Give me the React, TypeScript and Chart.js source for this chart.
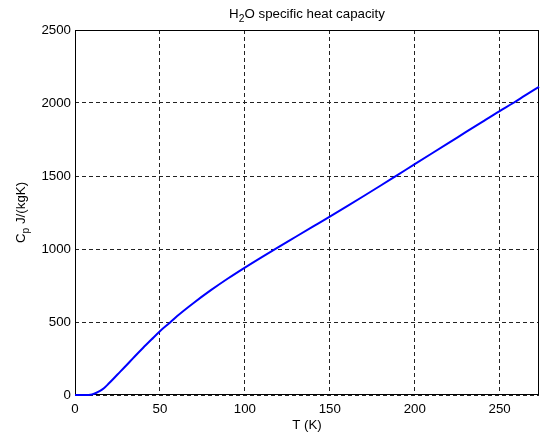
import React, { useEffect, useRef } from "react";
import { Chart, registerables } from "chart.js";

Chart.register(...registerables);

const temperatureK = [0, 4, 8, 10, 12, 15, 17, 20, 25, 30, 35, 40, 45, 50, 56, 60, 70, 80, 90, 100, 110, 120, 130, 140, 150, 160, 170, 180, 190, 200, 210, 220, 230, 240, 250, 258, 265, 273.15];
const cpValues = [0, 0, 0, 3, 12, 30, 46, 80, 140, 200, 262, 322, 380, 437, 497, 539, 632, 718, 798, 873, 945, 1015, 1084, 1153, 1222, 1292, 1363, 1435, 1508, 1581, 1654, 1727, 1800, 1873, 1945, 2000, 2052, 2111];
const xTicks = [0, 50, 100, 150, 200, 250];
const yTicks = [0, 500, 1000, 1500, 2000, 2500];

const FONT = "Liberation Sans, Arial, Helvetica, sans-serif";
const FS = 13.3;

const framePlugin = {
  id: "matlabFrame",
  beforeDatasetsDraw(chart: any) {
    const { ctx, chartArea } = chart;
    const { left, right, top, bottom } = chartArea;
    ctx.save();
    ctx.strokeStyle = "#000";
    ctx.lineWidth = 1;
    ctx.setLineDash([]);
    ctx.strokeRect(Math.round(left) + 0.5, Math.round(top) + 0.5, Math.round(right - left) - 1, Math.round(bottom - top) - 1);
    ctx.restore();
  },
  afterDraw(chart: any) {
    const { ctx, chartArea } = chart;
    const { left, right, top, bottom } = chartArea;
    ctx.save();
    ctx.fillStyle = "#000";
    const cx = (left + right) / 2;
    const big = `${FS}px ${FONT}`;
    const small = `${FS - 3}px ${FONT}`;
    const drawSub = (parts: [string, boolean][], x: number, y: number) => {
      let w = 0;
      for (const [t, s] of parts) {
        ctx.font = s ? small : big;
        w += ctx.measureText(t).width;
      }
      let cur = x - w / 2;
      ctx.textAlign = "left";
      ctx.textBaseline = "alphabetic";
      for (const [t, s] of parts) {
        ctx.font = s ? small : big;
        ctx.fillText(t, cur, y + (s ? 4 : 0));
        cur += ctx.measureText(t).width;
      }
    };
    drawSub([["H", false], ["2", true], ["O specific heat capacity", false]], cx, 18);
    ctx.font = big;
    ctx.textAlign = "center";
    ctx.textBaseline = "alphabetic";
    ctx.fillText("T (K)", cx, 429);
    ctx.save();
    ctx.translate(25, (top + bottom) / 2);
    ctx.rotate(-Math.PI / 2);
    drawSub([["C", false], ["p", true], [" J/(kgK)", false]], 0, 0);
    ctx.restore();
    ctx.restore();
  },
};

export default function App() {
  const ref = useRef<HTMLCanvasElement | null>(null);
  useEffect(() => {
    if (!ref.current) return;
    const chart = new Chart(ref.current, {
      type: "line",
      data: {
        datasets: [
          {
            data: temperatureK.map((t, i) => ({ x: t, y: cpValues[i] })),
            borderColor: "#0000ff",
            borderWidth: 2,
            pointRadius: 0,
            fill: false,
            cubicInterpolationMode: "monotone",
            clip: 2,
          },
        ],
      },
      options: {
        animation: false,
        responsive: false,
        devicePixelRatio: 1,
        layout: { padding: { left: 0, right: 2, top: 30, bottom: 0 } },
        plugins: { legend: { display: false }, tooltip: { enabled: false }, title: { display: false } },
        scales: {
          x: {
            type: "linear",
            min: 0,
            max: 273.15,
            afterBuildTicks: (s: any) => {
              s.ticks = xTicks.map((v) => ({ value: v }));
            },
            afterFit: (s: any) => {
              s.height = 38;
            },
            grid: { color: "#222", lineWidth: 1, drawTicks: false },
            border: { display: false, dash: [4, 3] },
            ticks: {
              color: "#000",
              font: { family: FONT, size: FS },
              padding: 6,
              maxRotation: 0,
              callback: (v: any) => String(v),
            },
          },
          y: {
            type: "linear",
            min: 0,
            max: 2500,
            afterBuildTicks: (s: any) => {
              s.ticks = yTicks.map((v) => ({ value: v }));
            },
            afterFit: (s: any) => {
              s.width = 75;
            },
            grid: { color: "#222", lineWidth: 1, drawTicks: false },
            border: { display: false, dash: [4, 3] },
            ticks: {
              color: "#000",
              font: { family: FONT, size: FS },
              padding: 4,
              callback: (v: any) => String(v),
            },
          },
        },
      },
      plugins: [framePlugin],
    } as any);
    return () => chart.destroy();
  }, []);
  return (
    <div style={{ position: "absolute", left: 0, top: 0, width: 541, height: 433, background: "#fff" }}>
      <canvas ref={ref} width={541} height={433} style={{ width: 541, height: 433 }} />
    </div>
  );
}
